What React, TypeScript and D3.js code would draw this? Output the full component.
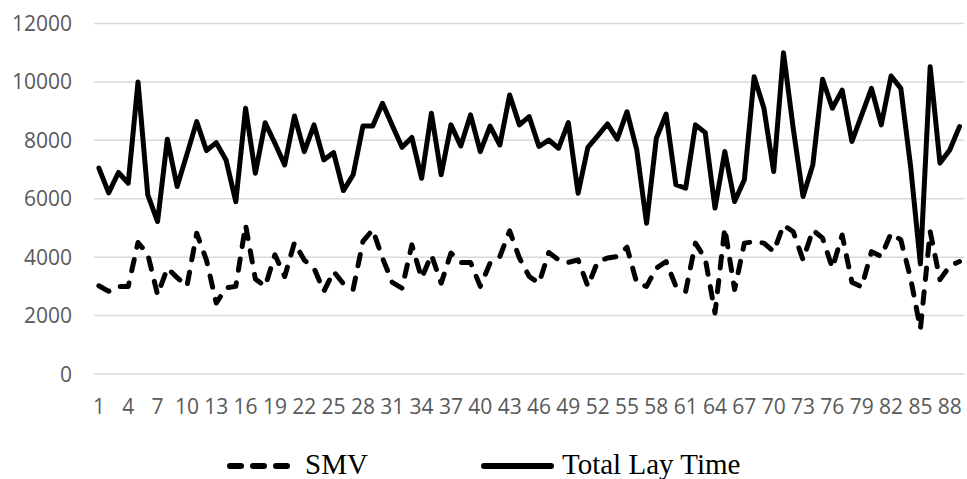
import React from 'react';
import * as d3 from 'd3';

// series, index 1..89
const smv = [
  3020, 2830, 3000, 3000, 4500, 4100, 2710, 3625, 3300, 3000,
  4820, 3900, 2430, 2950, 3000, 5100, 3250, 3000, 4080, 3340,
  4500, 3900, 3625, 2830, 3510, 3090, 2900, 4540, 4940, 3970,
  3135, 2940, 4420, 3280, 4080, 3110, 4140, 3820, 3820, 3000,
  3800, 4020, 4900, 3970, 3340, 3110, 4160, 3910, 3820, 3910,
  3000, 3850, 3970, 4020, 4340, 3110, 3000, 3625, 3850, 3000,
  2830, 4480, 3950, 2090, 5000, 2890, 4480, 4530, 4480, 4190,
  5100, 4870, 3910, 4930, 4650, 3625, 4760, 3140, 2980, 4190,
  4020, 4820, 4590, 3280, 1540, 4870, 3230, 3700, 3850,
];

const totalLayTime = [
  7050, 6200, 6900, 6530, 10000, 6130, 5220, 8040, 6420, 7520,
  8640, 7650, 7920, 7330, 5900, 9100, 6870, 8600, 7900, 7160,
  8835, 7615, 8530, 7330, 7580, 6280, 6820, 8490, 8490, 9270,
  8510, 7760, 8100, 6700, 8930, 6820, 8530, 7810, 8870, 7615,
  8490, 7840, 9550, 8530, 8810, 7790, 8010, 7730, 8610, 6190,
  7760, 8150, 8560, 8040, 8980, 7670, 5160, 8070, 8900, 6480,
  6360, 8530, 8265, 5680, 7615, 5905, 6650, 10180, 9100, 6930,
  11000, 8400, 6080, 7160, 10090, 9100, 9720, 7960, 8870, 9780,
  8530, 10200, 9780, 7100, 3770, 10520, 7220, 7670, 8470,
];

const categories = smv.map((_, i) => i + 1);
const yTicks = [0, 2000, 4000, 6000, 8000, 10000, 12000];

const W = 967;
const H = 479;
const axisFont = '"Open Sans", sans-serif';
const legendFont = '"Liberation Serif", "Times New Roman", serif';

export default function App() {
  if (typeof document !== 'undefined') document.body.style.margin = '0';

  const x = d3.scaleBand<number>()
    .domain(categories)
    .range([94, 964.4]);
  const cx = (d: number) => x(d)! + x.bandwidth() / 2;

  const y = d3.scaleLinear().domain([0, 12000]).range([374, 23.5]);

  const line = d3.line<number>()
    .x((_, i) => cx(categories[i]))
    .y(d => y(d));

  const xLabels = categories.filter(c => (c - 1) % 3 === 0);

  return (
    <svg width={W} height={H} style={{ display: 'block', background: '#fff' }}>
      {yTicks.map(t => (
        <g key={t}>
          <line x1={94} x2={964.4} y1={y(t)} y2={y(t)} stroke="#d9d9d9" strokeWidth={1.5} />
          <text x={72} y={y(t)} dy="0.36em" textAnchor="end"
            fontFamily={axisFont} fontSize={21} fill="#595959">{t}</text>
        </g>
      ))}

      {xLabels.map(c => (
        <text key={c} x={cx(c)} y={414} textAnchor="middle"
          fontFamily={axisFont} fontSize={21} fill="#595959">{c}</text>
      ))}

      <path d={line(totalLayTime)!} fill="none" stroke="#000" strokeWidth={5}
        strokeLinejoin="round" strokeLinecap="round" />
      <path d={line(smv)!} fill="none" stroke="#000" strokeWidth={5}
        strokeDasharray="11.5 12.5" strokeLinejoin="round" strokeLinecap="round" />

      {/* legend */}
      <line x1={230} x2={291} y1={466} y2={466} stroke="#000" strokeWidth={6}
        strokeDasharray="11 12" strokeLinecap="round" />
      <text x={305} y={474} fontFamily={legendFont} fontSize={29} fill="#000">SMV</text>
      <line x1={484} x2={551} y1={466} y2={466} stroke="#000" strokeWidth={6}
        strokeLinecap="round" />
      <text x={562} y={474} fontFamily={legendFont} fontSize={29} fill="#000">Total Lay Time</text>
    </svg>
  );
}
